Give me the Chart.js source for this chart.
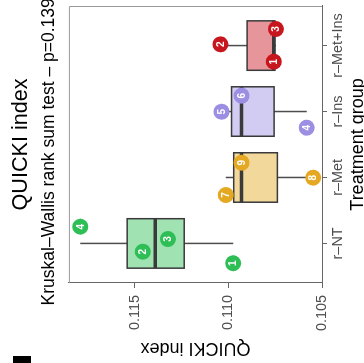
<!DOCTYPE html>
<html>
<head>
<meta charset="utf-8">
<script src="https://cdn.jsdelivr.net/npm/chart.js@4/dist/chart.umd.min.js"></script>
<style>
  body { margin: 0; background: #fff; }
  #wrap {
    position: absolute; left: 0; top: 0;
    width: 363px; height: 364px; overflow: hidden; background: #fff;
    transform-origin: 0 0;
    transform: translate(0, 363px) rotate(-90deg);
  }
  #chart { position: absolute; left: 0; top: 0; }
</style>
</head>
<body>
<div id="wrap"><canvas id="chart" width="437" height="370"></canvas></div>
<script>
// groups on the x axis
const groups = ['r–NT', 'r–Met', 'r–Ins', 'r–Met+Ins'];
const colors = ['#2dbe55', '#e5a823', '#9c8fe3', '#c8161e'];

// QUICKI values per animal, jittered x position and animal id
const ntY = [0.10974, 0.11456, 0.11322, 0.11789];
const ntX = [0.700, 0.875, 1.067, 1.254];
const ntId = [1, 2, 3, 4];

const metY = [0.11013, 0.10547, 0.10929];
const metX = [1.734, 1.997, 2.224];
const metId = [7, 8, 9];

const insY = [0.10582, 0.11036, 0.10929];
const insX = [2.755, 2.997, 3.240];
const insId = [4, 5, 6];

const mixY = [0.10757, 0.11042, 0.10746];
const mixX = [3.756, 4.019, 4.251];
const mixId = [1, 2, 3];

const yTicks = [0.105, 0.110, 0.115];

const allY = [ntY, metY, insY, mixY];
const allX = [ntX, metX, insX, mixX];
const allId = [ntId, metId, insId, mixId];

const FONT = "'Liberation Sans', Arial, Helvetica, sans-serif";
const boxWidth = 0.75;

function quantile(sorted, p) {
  const h = (sorted.length - 1) * p;
  const lo = Math.floor(h);
  const hi = Math.min(lo + 1, sorted.length - 1);
  return sorted[lo] + (h - lo) * (sorted[hi] - sorted[lo]);
}

function boxStats(vals) {
  const s = [...vals].sort((a, b) => a - b);
  const q1 = quantile(s, 0.25), med = quantile(s, 0.5), q3 = quantile(s, 0.75);
  const iqr = q3 - q1;
  const lo = Math.min(...s.filter(v => v >= q1 - 1.5 * iqr));
  const hi = Math.max(...s.filter(v => v <= q3 + 1.5 * iqr));
  return { q1, med, q3, lo, hi };
}

function alpha(hex, a) {
  const n = parseInt(hex.slice(1), 16);
  return `rgba(${n >> 16},${(n >> 8) & 255},${n & 255},${a})`;
}

const boxPlugin = {
  id: 'boxes',
  beforeDatasetsDraw(chart) {
    const { ctx, chartArea: a, scales: { x, y } } = chart;
    ctx.save();
    // panel border on top and right
    ctx.strokeStyle = '#999';
    ctx.lineWidth = 1;
    ctx.beginPath();
    ctx.moveTo(a.left, a.top + 0.5);
    ctx.lineTo(a.right - 0.5, a.top + 0.5);
    ctx.lineTo(a.right - 0.5, a.bottom);
    ctx.stroke();

    allY.forEach((vals, i) => {
      const st = boxStats(vals);
      const cx = x.getPixelForValue(i + 1);
      const hw = Math.abs(x.getPixelForValue(i + 1 + boxWidth / 2) - cx);
      // whiskers
      ctx.strokeStyle = '#4d4d4d';
      ctx.lineWidth = 1.5;
      ctx.beginPath();
      ctx.moveTo(cx, y.getPixelForValue(st.q3));
      ctx.lineTo(cx, y.getPixelForValue(st.hi));
      ctx.moveTo(cx, y.getPixelForValue(st.q1));
      ctx.lineTo(cx, y.getPixelForValue(st.lo));
      ctx.stroke();
      // box
      const top = y.getPixelForValue(st.q3), bot = y.getPixelForValue(st.q1);
      ctx.fillStyle = alpha(colors[i], 0.45);
      ctx.fillRect(cx - hw, top, hw * 2, bot - top);
      ctx.strokeStyle = '#3a3a3a';
      ctx.lineWidth = 1.5;
      ctx.strokeRect(cx - hw, top, hw * 2, bot - top);
      // median
      const my = y.getPixelForValue(st.med);
      ctx.lineWidth = 3.5;
      ctx.beginPath();
      ctx.moveTo(cx - hw, my);
      ctx.lineTo(cx + hw, my);
      ctx.stroke();
    });
    ctx.restore();
  },
  afterDatasetsDraw(chart) {
    const { ctx } = chart;
    ctx.save();
    ctx.fillStyle = '#fff';
    ctx.font = `bold 10px ${FONT}`;
    ctx.textAlign = 'center';
    ctx.textBaseline = 'middle';
    chart.data.datasets.forEach((ds, i) => {
      chart.getDatasetMeta(i).data.forEach((pt, j) => {
        ctx.fillText(String(allId[i][j]), pt.x, pt.y + 0.5);
      });
    });
    ctx.restore();
  },
  afterDraw(chart) {
    // cut-off panel tag at the corner
    const { ctx } = chart;
    ctx.save();
    ctx.fillStyle = '#000';
    ctx.fillRect(0, 13, 7, 18);
    ctx.restore();
  }
};

const datasets = groups.map((g, i) => ({
  label: g,
  data: allY[i].map((v, j) => ({ x: allX[i][j], y: v })),
  backgroundColor: colors[i],
  borderColor: colors[i],
  borderWidth: 0,
  pointRadius: 8,
  pointHoverRadius: 8
}));

new Chart(document.getElementById('chart'), {
  type: 'scatter',
  data: { datasets },
  plugins: [boxPlugin],
  options: {
    responsive: false,
    animation: false,
    layout: { padding: 0 },
    plugins: {
      legend: { display: false },
      tooltip: { enabled: false },
      title: {
        display: true,
        text: 'QUICKI index',
        color: '#000',
        font: { family: FONT, size: 21.6, weight: 'normal' },
        padding: { top: 8, bottom: 5 }
      },
      subtitle: {
        display: true,
        // trailing spaces keep the line where it sits in the original layout
        text: 'Kruskal–Wallis rank sum test – p=0.139\u00a0\u00a0\u00a0',
        color: '#000',
        font: { family: FONT, size: 17.5, weight: 'normal' },
        padding: { top: 0, bottom: 9 }
      }
    },
    scales: {
      x: {
        type: 'linear',
        min: 0.4,
        max: 4.6,
        afterBuildTicks: s => { s.ticks = groups.map((g, i) => ({ value: i + 1 })); },
        afterFit: s => { s.height = 48; },
        ticks: {
          callback: v => groups[v - 1],
          autoSkip: false,
          maxRotation: 0,
          padding: 2,
          color: '#4d4d4d',
          font: { family: FONT, size: 14.4 }
        },
        grid: { drawOnChartArea: false, tickLength: 5, color: '#666' },
        border: { color: '#666', width: 1 },
        title: {
          display: true,
          text: 'Treatment group',
          color: '#000',
          font: { family: FONT, size: 18 },
          padding: { top: 0, bottom: 1 }
        }
      },
      y: {
        min: 0.105,
        max: 0.1185,
        afterBuildTicks: s => { s.ticks = yTicks.map(v => ({ value: v })); },
        afterFit: s => { s.width = 80; },
        ticks: {
          callback: v => v.toFixed(3),
          padding: 7,
          color: '#4d4d4d',
          font: { family: FONT, size: 14.4 }
        },
        grid: { drawOnChartArea: false, tickLength: 5, color: '#666' },
        border: { color: '#666', width: 1 },
        title: {
          display: true,
          text: 'QUICKI index',
          color: '#000',
          font: { family: FONT, size: 18 },
          padding: { top: 4, bottom: 0 }
        }
      },
      yr: {
        type: 'linear',
        position: 'right',
        display: true,
        afterFit: s => { s.width = 80; },
        ticks: { display: false },
        grid: { display: false, drawTicks: false },
        border: { display: false }
      }
    }
  }
});
</script>
</body>
</html>
